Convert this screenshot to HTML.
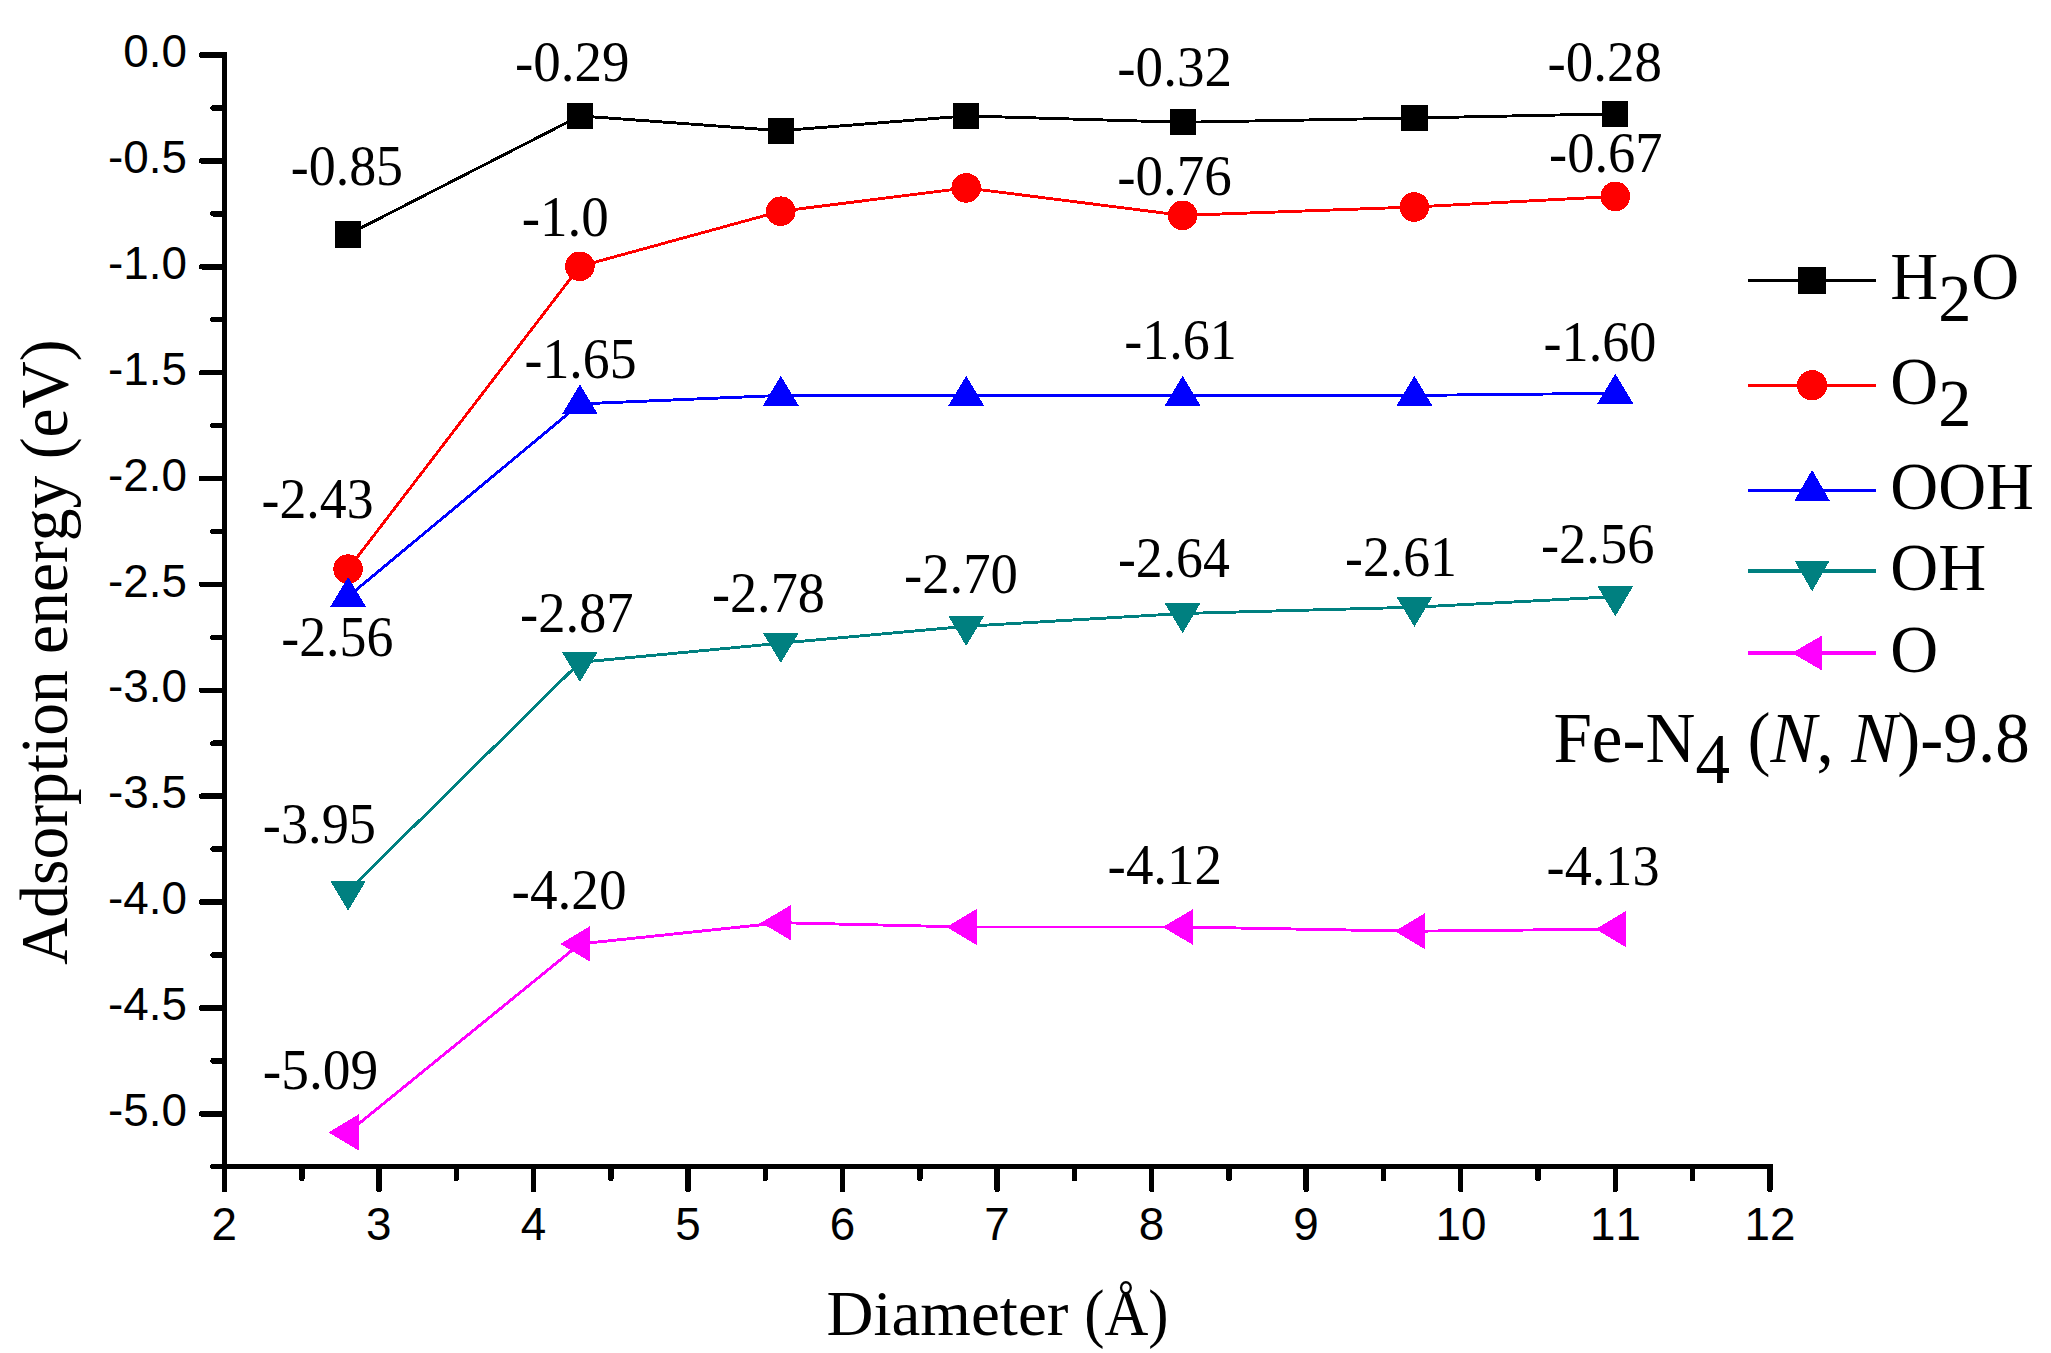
<!DOCTYPE html>
<html lang="en">
<head>
<meta charset="utf-8">
<title>Adsorption energy vs Diameter</title>
<style>
html,body{margin:0;padding:0;background:#fff;}
body{width:2051px;height:1353px;overflow:hidden;}
svg{display:block;}
.ser{font-family:"Liberation Serif","Times New Roman",serif;fill:#000;font-kerning:none;}
.san{font-family:"Liberation Sans",Arial,sans-serif;fill:#000;font-kerning:none;}
</style>
</head>
<body>
<svg width="2051" height="1353" viewBox="0 0 2051 1353" shape-rendering="crispEdges">
<rect x="0" y="0" width="2051" height="1353" fill="#ffffff"/>

<g stroke="#000" stroke-width="5.5" stroke-linecap="round" fill="none">
<path d="M224.50,52.25 V1166.74 H1772.55" stroke-linejoin="miter" stroke-linecap="butt"/>
<line x1="223.50" y1="55.00" x2="201.50" y2="55.00"/>
<line x1="223.50" y1="107.94" x2="213.00" y2="107.94"/>
<line x1="223.50" y1="160.88" x2="201.50" y2="160.88"/>
<line x1="223.50" y1="213.82" x2="213.00" y2="213.82"/>
<line x1="223.50" y1="266.76" x2="201.50" y2="266.76"/>
<line x1="223.50" y1="319.70" x2="213.00" y2="319.70"/>
<line x1="223.50" y1="372.64" x2="201.50" y2="372.64"/>
<line x1="223.50" y1="425.58" x2="213.00" y2="425.58"/>
<line x1="223.50" y1="478.52" x2="201.50" y2="478.52"/>
<line x1="223.50" y1="531.46" x2="213.00" y2="531.46"/>
<line x1="223.50" y1="584.40" x2="201.50" y2="584.40"/>
<line x1="223.50" y1="637.34" x2="213.00" y2="637.34"/>
<line x1="223.50" y1="690.28" x2="201.50" y2="690.28"/>
<line x1="223.50" y1="743.22" x2="213.00" y2="743.22"/>
<line x1="223.50" y1="796.16" x2="201.50" y2="796.16"/>
<line x1="223.50" y1="849.10" x2="213.00" y2="849.10"/>
<line x1="223.50" y1="902.04" x2="201.50" y2="902.04"/>
<line x1="223.50" y1="954.98" x2="213.00" y2="954.98"/>
<line x1="223.50" y1="1007.92" x2="201.50" y2="1007.92"/>
<line x1="223.50" y1="1060.86" x2="213.00" y2="1060.86"/>
<line x1="223.50" y1="1113.80" x2="201.50" y2="1113.80"/>
<line x1="223.50" y1="1166.74" x2="213.00" y2="1166.74"/>
<line x1="224.50" y1="1167.74" x2="224.50" y2="1189.54"/>
<line x1="301.76" y1="1167.74" x2="301.76" y2="1178.54"/>
<line x1="379.03" y1="1167.74" x2="379.03" y2="1189.54"/>
<line x1="456.30" y1="1167.74" x2="456.30" y2="1178.54"/>
<line x1="533.56" y1="1167.74" x2="533.56" y2="1189.54"/>
<line x1="610.83" y1="1167.74" x2="610.83" y2="1178.54"/>
<line x1="688.09" y1="1167.74" x2="688.09" y2="1189.54"/>
<line x1="765.36" y1="1167.74" x2="765.36" y2="1178.54"/>
<line x1="842.62" y1="1167.74" x2="842.62" y2="1189.54"/>
<line x1="919.88" y1="1167.74" x2="919.88" y2="1178.54"/>
<line x1="997.15" y1="1167.74" x2="997.15" y2="1189.54"/>
<line x1="1074.41" y1="1167.74" x2="1074.41" y2="1178.54"/>
<line x1="1151.68" y1="1167.74" x2="1151.68" y2="1189.54"/>
<line x1="1228.95" y1="1167.74" x2="1228.95" y2="1178.54"/>
<line x1="1306.21" y1="1167.74" x2="1306.21" y2="1189.54"/>
<line x1="1383.47" y1="1167.74" x2="1383.47" y2="1178.54"/>
<line x1="1460.74" y1="1167.74" x2="1460.74" y2="1189.54"/>
<line x1="1538.01" y1="1167.74" x2="1538.01" y2="1178.54"/>
<line x1="1615.27" y1="1167.74" x2="1615.27" y2="1189.54"/>
<line x1="1692.54" y1="1167.74" x2="1692.54" y2="1178.54"/>
<line x1="1769.80" y1="1167.74" x2="1769.80" y2="1189.54"/>
</g>
<g class="san" font-size="45.8">
<text x="186.9" y="67.1" text-anchor="end">0.0</text>
<text x="186.9" y="173.0" text-anchor="end">-0.5</text>
<text x="186.9" y="278.9" text-anchor="end">-1.0</text>
<text x="186.9" y="384.7" text-anchor="end">-1.5</text>
<text x="186.9" y="490.6" text-anchor="end">-2.0</text>
<text x="186.9" y="596.5" text-anchor="end">-2.5</text>
<text x="186.9" y="702.4" text-anchor="end">-3.0</text>
<text x="186.9" y="808.3" text-anchor="end">-3.5</text>
<text x="186.9" y="914.1" text-anchor="end">-4.0</text>
<text x="186.9" y="1020.0" text-anchor="end">-4.5</text>
<text x="186.9" y="1125.9" text-anchor="end">-5.0</text>
<text x="224.3" y="1239.8" text-anchor="middle">2</text>
<text x="378.8" y="1239.8" text-anchor="middle">3</text>
<text x="533.4" y="1239.8" text-anchor="middle">4</text>
<text x="687.9" y="1239.8" text-anchor="middle">5</text>
<text x="842.4" y="1239.8" text-anchor="middle">6</text>
<text x="996.9" y="1239.8" text-anchor="middle">7</text>
<text x="1151.5" y="1239.8" text-anchor="middle">8</text>
<text x="1306.0" y="1239.8" text-anchor="middle">9</text>
<text x="1461.0" y="1239.8" text-anchor="middle">10</text>
<text x="1615.6" y="1239.8" text-anchor="middle">11</text>
<text x="1770.1" y="1239.8" text-anchor="middle">12</text>
</g>
<text class="ser" font-size="64" transform="translate(826.43,1334.7) scale(1.0166,1)">Diameter</text>
<text class="ser" font-size="66" transform="translate(1084.23,1334.7) scale(0.9205,1)">(Å)</text>
<text class="ser" font-size="67.5" transform="translate(67.3,652.2) rotate(-90) scale(0.9704,1)" text-anchor="middle">Adsorption energy (eV)</text>
<polyline points="348.1,234.5 579.9,115.9 780.8,130.7 966.2,115.9 1182.6,122.3 1414.4,118.0 1615.3,113.8" fill="none" stroke="#000000" stroke-width="2.9" stroke-linejoin="round"/>
<rect x="335.0" y="221.4" width="26.2" height="26.2" fill="#000000"/>
<rect x="566.8" y="102.8" width="26.2" height="26.2" fill="#000000"/>
<rect x="767.7" y="117.6" width="26.2" height="26.2" fill="#000000"/>
<rect x="953.1" y="102.8" width="26.2" height="26.2" fill="#000000"/>
<rect x="1169.5" y="109.2" width="26.2" height="26.2" fill="#000000"/>
<rect x="1401.3" y="104.9" width="26.2" height="26.2" fill="#000000"/>
<rect x="1602.2" y="100.7" width="26.2" height="26.2" fill="#000000"/>
<polyline points="348.1,569.1 579.9,266.3 780.8,211.2 966.2,187.9 1182.6,215.4 1414.4,207.0 1615.3,196.4" fill="none" stroke="#ff0000" stroke-width="2.9" stroke-linejoin="round"/>
<circle cx="348.1" cy="569.1" r="14.8" fill="#ff0000"/>
<circle cx="579.9" cy="266.3" r="14.8" fill="#ff0000"/>
<circle cx="780.8" cy="211.2" r="14.8" fill="#ff0000"/>
<circle cx="966.2" cy="187.9" r="14.8" fill="#ff0000"/>
<circle cx="1182.6" cy="215.4" r="14.8" fill="#ff0000"/>
<circle cx="1414.4" cy="207.0" r="14.8" fill="#ff0000"/>
<circle cx="1615.3" cy="196.4" r="14.8" fill="#ff0000"/>
<polyline points="348.1,596.6 579.9,403.9 780.8,395.4 966.2,395.4 1182.6,395.4 1414.4,395.4 1615.3,393.3" fill="none" stroke="#0000ff" stroke-width="2.9" stroke-linejoin="round"/>
<polygon points="348.1,576.9 330.1,607.1 366.1,607.1" fill="#0000ff"/>
<polygon points="579.9,384.2 561.9,414.4 597.9,414.4" fill="#0000ff"/>
<polygon points="780.8,375.7 762.8,405.9 798.8,405.9" fill="#0000ff"/>
<polygon points="966.2,375.7 948.2,405.9 984.2,405.9" fill="#0000ff"/>
<polygon points="1182.6,375.7 1164.6,405.9 1200.6,405.9" fill="#0000ff"/>
<polygon points="1414.4,375.7 1396.4,405.9 1432.4,405.9" fill="#0000ff"/>
<polygon points="1615.3,373.6 1597.3,403.8 1633.3,403.8" fill="#0000ff"/>
<polyline points="348.1,891.0 579.9,662.3 780.8,643.2 966.2,626.3 1182.6,613.5 1414.4,607.2 1615.3,596.6" fill="none" stroke="#008080" stroke-width="2.9" stroke-linejoin="round"/>
<polygon points="348.1,910.7 330.1,880.5 366.1,880.5" fill="#008080"/>
<polygon points="579.9,682.0 561.9,651.8 597.9,651.8" fill="#008080"/>
<polygon points="780.8,662.9 762.8,632.7 798.8,632.7" fill="#008080"/>
<polygon points="966.2,646.0 948.2,615.8 984.2,615.8" fill="#008080"/>
<polygon points="1182.6,633.2 1164.6,603.0 1200.6,603.0" fill="#008080"/>
<polygon points="1414.4,626.9 1396.4,596.7 1432.4,596.7" fill="#008080"/>
<polygon points="1615.3,616.3 1597.3,586.1 1633.3,586.1" fill="#008080"/>
<polyline points="348.1,1132.4 579.9,943.9 780.8,922.7 966.2,927.0 1182.6,927.0 1414.4,931.2 1615.3,929.1" fill="none" stroke="#ff00ff" stroke-width="2.9" stroke-linejoin="round"/>
<polygon points="328.4,1132.4 358.6,1114.4 358.6,1150.4" fill="#ff00ff"/>
<polygon points="560.2,943.9 590.4,925.9 590.4,961.9" fill="#ff00ff"/>
<polygon points="761.1,922.7 791.3,904.7 791.3,940.7" fill="#ff00ff"/>
<polygon points="946.5,927.0 976.7,909.0 976.7,945.0" fill="#ff00ff"/>
<polygon points="1162.9,927.0 1193.1,909.0 1193.1,945.0" fill="#ff00ff"/>
<polygon points="1394.7,931.2 1424.9,913.2 1424.9,949.2" fill="#ff00ff"/>
<polygon points="1595.6,929.1 1625.8,911.1 1625.8,947.1" fill="#ff00ff"/>
<g class="ser" font-size="56">
<text transform="translate(290.70,185.2) scale(0.9637,1)">-0.85</text>
<text transform="translate(514.96,80.8) scale(0.9824,1)">-0.29</text>
<text transform="translate(1117.26,85.7) scale(0.9840,1)">-0.32</text>
<text transform="translate(1547.46,81.2) scale(0.9810,1)">-0.28</text>
<text transform="translate(521.66,236.1) scale(0.9830,1)">-1.0</text>
<text transform="translate(1117.26,195.0) scale(0.9823,1)">-0.76</text>
<text transform="translate(1548.98,171.8) scale(0.9738,1)">-0.67</text>
<text transform="translate(524.60,377.8) scale(0.9601,1)">-1.65</text>
<text transform="translate(1124.29,359.3) scale(0.9649,1)">-1.61</text>
<text transform="translate(1543.49,361.4) scale(0.9685,1)">-1.60</text>
<text transform="translate(261.60,518.4) scale(0.9601,1)">-2.43</text>
<text transform="translate(281.20,655.9) scale(0.9619,1)">-2.56</text>
<text transform="translate(519.97,632.3) scale(0.9747,1)">-2.87</text>
<text transform="translate(711.99,612.1) scale(0.9676,1)">-2.78</text>
<text transform="translate(903.97,593.0) scale(0.9774,1)">-2.70</text>
<text transform="translate(1117.91,577.0) scale(0.9596,1)">-2.64</text>
<text transform="translate(1345.01,575.8) scale(0.9595,1)">-2.61</text>
<text transform="translate(1540.88,562.6) scale(0.9734,1)">-2.56</text>
<text transform="translate(262.78,842.7) scale(0.9708,1)">-3.95</text>
<text transform="translate(511.55,909.2) scale(0.9863,1)">-4.20</text>
<text transform="translate(1107.56,884.4) scale(0.9822,1)">-4.12</text>
<text transform="translate(1546.59,884.8) scale(0.9681,1)">-4.13</text>
<text transform="translate(262.74,1088.8) scale(0.9904,1)">-5.09</text>
</g>
<line x1="1748.3" y1="280.6" x2="1875.9" y2="280.6" stroke="#000000" stroke-width="3.1"/>
<rect x="1798.3" y="266.8" width="27.6" height="27.6" fill="#000000"/>
<line x1="1748.3" y1="385.2" x2="1875.9" y2="385.2" stroke="#ff0000" stroke-width="3.1"/>
<circle cx="1812.1" cy="385.2" r="15.1" fill="#ff0000"/>
<line x1="1748.3" y1="490.3" x2="1875.9" y2="490.3" stroke="#0000ff" stroke-width="3.1"/>
<polygon points="1812.1,469.9 1794.5,500.6 1829.7,500.6" fill="#0000ff"/>
<line x1="1748.3" y1="571.0" x2="1875.9" y2="571.0" stroke="#008080" stroke-width="3.1"/>
<polygon points="1812.1,591.4 1794.5,560.7 1829.7,560.7" fill="#008080"/>
<line x1="1748.3" y1="653.0" x2="1875.9" y2="653.0" stroke="#ff00ff" stroke-width="3.1"/>
<polygon points="1791.7,653.0 1822.4,635.4 1822.4,670.6" fill="#ff00ff"/>
<g class="ser" font-size="67">
<text transform="translate(1890.3,299.1) scale(0.99,1)">H<tspan dy="21.7">2</tspan><tspan dy="-21.7">O</tspan></text>
<text transform="translate(1890.3,404.2) scale(0.99,1)">O<tspan dy="21.9">2</tspan></text>
<text transform="translate(1890.3,509.3) scale(0.99,1)">OOH</text>
<text transform="translate(1890.3,590.3) scale(0.99,1)">OH</text>
<text transform="translate(1890.3,672.2) scale(0.99,1)">O</text>
</g>
<text class="ser" font-size="71" transform="translate(1553.4,762.3) scale(0.974,1)">Fe-N<tspan dy="20.5">4</tspan><tspan dy="-20.5"> (</tspan><tspan font-style="italic">N</tspan>, <tspan font-style="italic">N</tspan>)-9.8</text>
</svg>
</body>
</html>
